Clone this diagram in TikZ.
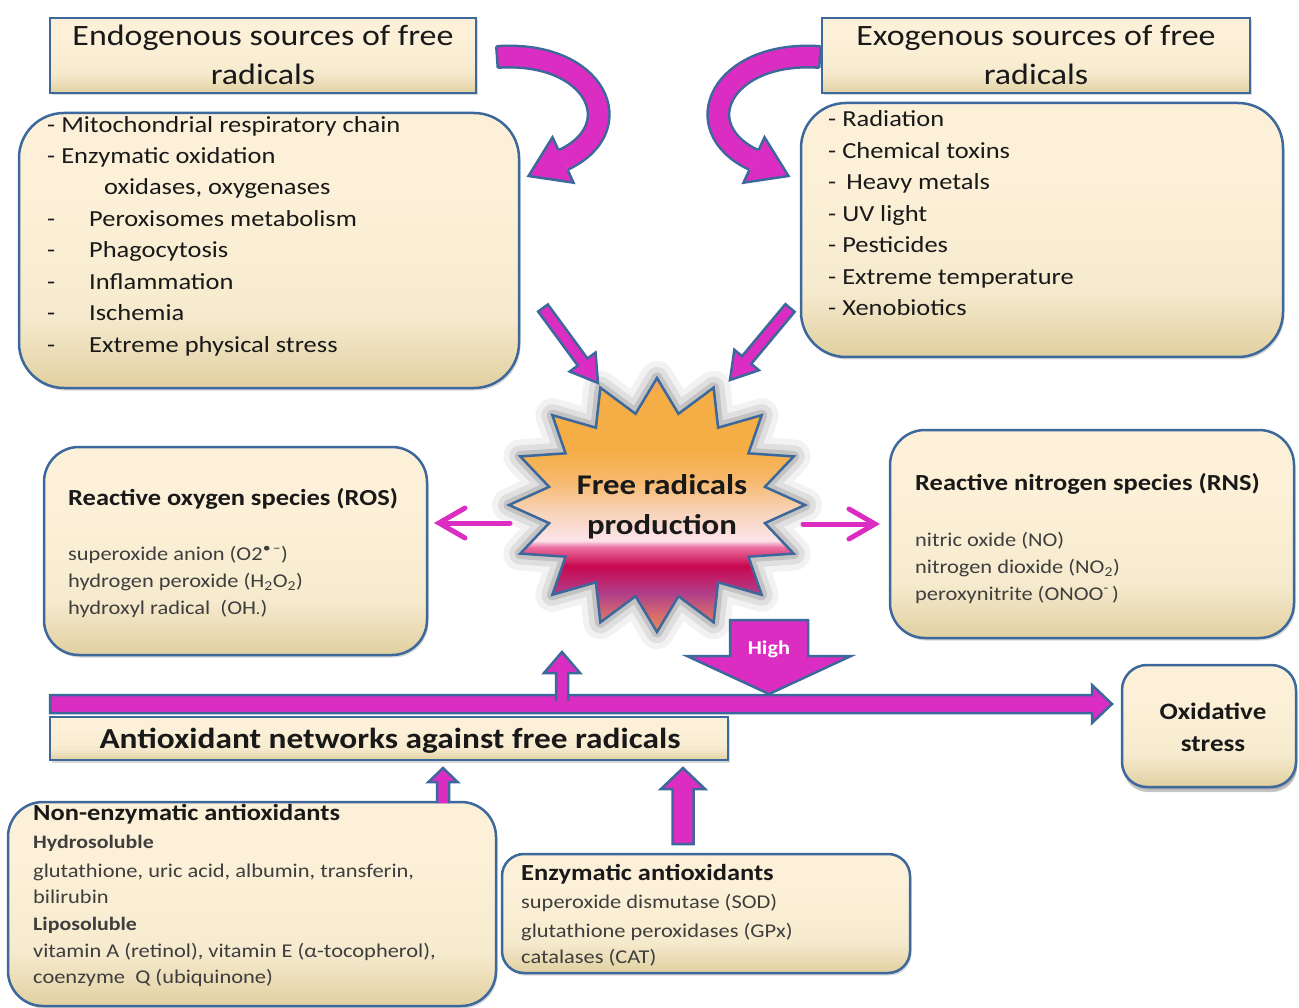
\documentclass[tikz,border=0pt]{standalone}
\usepackage{fontspec}
\setmainfont{Carlito}[FakeStretch=1.15]
\usetikzlibrary{calc,arrows.meta,shadows}

\definecolor{bordercol}{RGB}{61,104,155}
\definecolor{magentaA}{RGB}{220,45,195}
\definecolor{boxtop}{RGB}{252,241,216}
\definecolor{boxmid}{RGB}{246,234,206}
\definecolor{boxbot}{RGB}{224,208,160}
\definecolor{txt}{RGB}{25,25,25}
\definecolor{txtgray}{RGB}{62,62,62}
\definecolor{sA}{HTML}{E58C55}
\definecolor{sB}{HTML}{D9706A}
\definecolor{sC}{HTML}{B0408A}
\definecolor{sD}{HTML}{C80850}
\definecolor{sE}{HTML}{EC6FA0}
\definecolor{sF}{HTML}{FBE4EA}
\definecolor{sG}{HTML}{F9D2B5}
\definecolor{sH}{HTML}{F6B86A}
\definecolor{sI}{HTML}{F5AD45}
\definecolor{sJ}{HTML}{F2A07A}

\pgfdeclareverticalshading{boxshade}{100bp}{color(0bp)=(boxbot); color(25bp)=(boxbot); color(38bp)=(boxmid); color(60bp)=(boxtop); color(100bp)=(boxtop)}
\pgfdeclareverticalshading{starshade}{100bp}{color(0bp)=(sA); color(25bp)=(sA); color(28bp)=(sB); color(32.5bp)=(sC); color(38bp)=(sD); color(41.7bp)=(sE); color(43bp)=(sF); color(49bp)=(sG); color(55bp)=(sH); color(61bp)=(sI); color(72bp)=(sI); color(75bp)=(sJ); color(100bp)=(sJ)}

\newcommand\fsz[2]{\fontsize{#1}{#2}\selectfont}

% block arrow: start, tip, shaft half width, head half width, head length, path end
\newcommand\blockarrow[6]{%
  \coordinate (tmpH) at ($(#2)!#5!(#1)$);
  \filldraw[blockarr] ($(#1)!#3!90:(#2)$) -- ($(tmpH)!#3!90:(#2)$) -- ($(tmpH)!#4!90:(#2)$) -- (#2) -- ($(tmpH)!#4!-90:(#2)$) -- ($(tmpH)!#3!-90:(#2)$) -- ($(#1)!#3!-90:(#2)$) #6;
}
% curved arrow: start, control 1, control 2, end of band
\newcommand\curvedarrow[4]{%
  \draw[line width=2.5pt, draw=bordercol, double=magentaA, double distance=19pt] (#1) .. controls (#2) and (#3) .. (#4);
  \draw[bordercol, line width=2.5pt] ($(#1)!10.75pt!90:(#2)$) -- ($(#1)!10.75pt!-90:(#2)$);
  \coordinate (tmpT) at ($(#4)!-38pt!(#3)$);
  \fill[magentaA] ($(#4)!25pt!90:(tmpT)$) -- (tmpT) -- ($(#4)!25pt!-90:(tmpT)$) -- cycle;
  \draw[bordercol, line width=2.5pt, line join=miter] ($(#4)!10.75pt!90:(tmpT)$) -- ($(#4)!25pt!90:(tmpT)$) -- (tmpT) -- ($(#4)!25pt!-90:(tmpT)$) -- ($(#4)!10.75pt!-90:(tmpT)$);
}

\begin{document}
\begin{tikzpicture}[x=1pt,y=-1pt,
  panel/.style={draw=bordercol, line width=2.5pt, shade, shading=boxshade, inner sep=0pt, outer sep=0pt,
    drop shadow={shadow xshift=1.5pt, shadow yshift=-2.5pt, opacity=0.3}},
  blockarr/.style={fill=magentaA, draw=bordercol, line width=2.5pt, line join=miter},
  thinarr/.style={magentaA, line width=5pt, line cap=round, -{Straight Barb[length=26pt, width=30pt, line cap=round]}},
  ln/.style={anchor=base west, inner sep=0pt, text=txt},
  lnc/.style={anchor=base, inner sep=0pt, text=txt},
  listf/.style={font=\fsz{23}{28}},
  titlef/.style={font=\fsz{29.5}{36}},
  itemf/.style={font=\fsz{19.5}{24}, text=txtgray},
  headf/.style={font=\bfseries\fsz{23}{27}}
]
\useasboundingbox (0,0) rectangle (1299,1008);
\fill[white] (0,0) rectangle (1299,1008);

% ---------- boxes ----------
\node[panel, minimum width=426pt, minimum height=75pt] (endoT) at (263,55.5) {};
\node[panel, rounded corners=45pt, minimum width=500pt, minimum height=275pt] (endoL) at (269,250.5) {};
\node[panel, minimum width=428pt, minimum height=75pt] (exoT) at (1036,55.5) {};
\node[panel, rounded corners=45pt, minimum width=482pt, minimum height=254pt] (exoL) at (1042,230) {};
\node[panel, rounded corners=35pt, minimum width=383pt, minimum height=208pt] (ros) at (235.5,551) {};
\node[panel, rounded corners=35pt, minimum width=404pt, minimum height=208pt] (rns) at (1092,534) {};
\node[panel, rounded corners=25pt, minimum width=174pt, minimum height=122pt,
      drop shadow={shadow xshift=1pt, shadow yshift=-5pt, opacity=0.45}] (oxi) at (1209,726) {};
\node[panel, rounded corners=35pt, minimum width=488pt, minimum height=204pt] (nonenz) at (252,904) {};
\node[panel, rounded corners=22pt, minimum width=408pt, minimum height=119pt] (enz) at (706,913.5) {};

% ---------- star ----------
\path[preaction={draw=black, opacity=0.05, line width=34pt, line join=round},
      preaction={draw=black, opacity=0.08, line width=22pt, line join=round},
      preaction={draw=black, opacity=0.12, line width=11pt, line join=round},
      shade, shading=starshade, draw=bordercol, line width=2.5pt, line join=miter]
  plot[samples at={0,...,31}, variable=\k]
  ({657+(129+19*cos(180*\k))*cos(90+\k*11.25)}, {505-(110+17*cos(180*\k))*sin(90+\k*11.25)}) -- cycle;
\node[inner sep=0pt, minimum width=220pt, minimum height=200pt] (star) at (657,505) {};

% ---------- antioxidant band and title ----------
\coordinate (upS) at (562,701);
\coordinate (upT) at (562,652);
\coordinate (bandS) at (50,704);
\coordinate (bandT) at (1112,704);
\node[panel, minimum width=678pt, minimum height=43pt] (anti) at (389,738.5) {};
\blockarrow{bandS}{bandT}{9pt}{19pt}{20pt}{-- cycle}
\blockarrow{upS}{upT}{6pt}{18pt}{21pt}{}

% ---------- connectors ----------
\coordinate (ecS) at (497,57);
\coordinate (ecA) at (596,50);
\coordinate (ecB) at (632,128);
\coordinate (ecE) at (563,160);
\curvedarrow{ecS}{ecA}{ecB}{ecE}
\coordinate (xcS) at (820,57);
\coordinate (xcA) at (721,50);
\coordinate (xcB) at (685,128);
\coordinate (xcE) at (754,160);
\curvedarrow{xcS}{xcA}{xcB}{xcE}

\coordinate (esS) at (543,308);
\coordinate (esT) at (598,383);
\blockarrow{esS}{esT}{6pt}{16pt}{26pt}{-- cycle}
\coordinate (xsS) at (790,308);
\coordinate (xsT) at (730,380);
\blockarrow{xsS}{xsT}{6pt}{16pt}{26pt}{-- cycle}

\coordinate (rosS) at (510,523);
\coordinate (rosT) at (434,523);
\draw[thinarr] (rosS) -- (rosT);
\coordinate (rnsS) at (803,524);
\coordinate (rnsT) at (880,524);
\draw[thinarr] (rnsS) -- (rnsT);

\coordinate (hiS) at (769,620);
\coordinate (hiT) at (769,694);
\blockarrow{hiS}{hiT}{39pt}{82pt}{38pt}{-- cycle}

\coordinate (neS) at (443,803);
\coordinate (neT) at (443,768);
\blockarrow{neS}{neT}{6pt}{14.5pt}{14pt}{}
\coordinate (enS) at (683,844);
\coordinate (enT) at (683,768);
\blockarrow{enS}{enT}{10.5pt}{22pt}{21pt}{-- cycle}

% ---------- texts ----------
\node[lnc, titlef] (endoT1) at (263,46) {Endogenous sources of free};
\node[lnc, titlef] (endoT2) at (263,85) {radicals};
\node[lnc, titlef] (exoT1) at (1036,46) {Exogenous sources of free};
\node[lnc, titlef] (exoT2) at (1036,85) {radicals};

\node[ln, listf] (en1) at (47,133) {- Mitochondrial respiratory chain};
\node[ln, listf] (en2) at (47,164) {- Enzymatic oxidation};
\node[ln, listf] (en3) at (104,195) {oxidases, oxygenases};
\node[ln, listf] (en4) at (47,227) {\makebox[42pt][l]{-}Peroxisomes metabolism};
\node[ln, listf] (en5) at (47,258) {\makebox[42pt][l]{-}Phagocytosis};
\node[ln, listf] (en6) at (47,290) {\makebox[42pt][l]{-}Inflammation};
\node[ln, listf] (en7) at (47,321) {\makebox[42pt][l]{-}Ischemia};
\node[ln, listf] (en8) at (47,353) {\makebox[42pt][l]{-}Extreme physical stress};

\node[ln, listf] (ex1) at (828,127) {- Radiation};
\node[ln, listf] (ex2) at (828,159) {- Chemical toxins};
\node[ln, listf] (ex3) at (828,190) {-\hspace{10pt}Heavy metals};
\node[ln, listf] (ex4) at (828,222) {- UV light};
\node[ln, listf] (ex5) at (828,253) {- Pesticides};
\node[ln, listf] (ex6) at (828,285) {- Extreme temperature};
\node[ln, listf] (ex7) at (828,316) {- Xenobiotics};

\node[ln, headf] (rosH) at (68,505) {Reactive oxygen species (ROS)};
\node[ln, itemf] (ros1) at (68,560) {superoxide anion (O2\textsuperscript{\textbullet\,–})};
\node[ln, itemf] (ros2) at (68,587) {hydrogen peroxide (H\textsubscript{2}O\textsubscript{2})};
\node[ln, itemf] (ros3) at (68,614) {hydroxyl radical\ \ (OH\textsubscript{·})};

\node[ln, headf] (rnsH) at (915,490) {Reactive nitrogen species (RNS)};
\node[ln, itemf] (rns1) at (915,546) {nitric oxide (NO)};
\node[ln, itemf] (rns2) at (915,573) {nitrogen dioxide (NO\textsubscript{2})};
\node[ln, itemf] (rns3) at (915,600) {peroxynitrite (ONOO\textsuperscript{-}\,)};

\node[lnc, font=\bfseries\fsz{28.5}{32}] (star1) at (662,494) {Free radicals};
\node[lnc, font=\bfseries\fsz{28.5}{32}] (star2) at (662,534) {production};

\node[lnc, font=\bfseries\fsz{19.5}{22}, text=white] (high) at (769,654) {High};

\node[lnc, font=\bfseries\fsz{29}{32}] (antiT) at (390,748) {Antioxidant networks against free radicals};

\node[lnc, font=\bfseries\fsz{23.5}{28}] (oxi1) at (1213,719) {Oxidative};
\node[lnc, font=\bfseries\fsz{23.5}{28}] (oxi2) at (1213,751) {stress};

\node[ln, font=\bfseries\fsz{23}{26}] (ne0) at (33,820) {Non-enzymatic antioxidants};
\node[ln, font=\bfseries\fsz{19}{24}, text=txtgray] (ne1) at (33,848) {Hydrosoluble};
\node[ln, itemf] (ne2) at (33,877) {glutathione, uric acid, albumin, transferin,};
\node[ln, itemf] (ne3) at (33,903) {bilirubin};
\node[ln, font=\bfseries\fsz{19}{24}, text=txtgray] (ne4) at (33,930) {Liposoluble};
\node[ln, itemf] (ne5) at (33,957) {vitamin A (retinol), vitamin E (α-tocopherol),};
\node[ln, itemf] (ne6) at (33,983) {coenzyme\ \ Q (ubiquinone)};

\node[ln, font=\bfseries\fsz{23}{26}] (ez0) at (521,880) {Enzymatic antioxidants};
\node[ln, itemf] (ez1) at (521,908) {superoxide dismutase (SOD)};
\node[ln, itemf] (ez2) at (521,937) {glutathione peroxidases (GPx)};
\node[ln, itemf] (ez3) at (521,963) {catalases (CAT)};
\end{tikzpicture}
\end{document}
